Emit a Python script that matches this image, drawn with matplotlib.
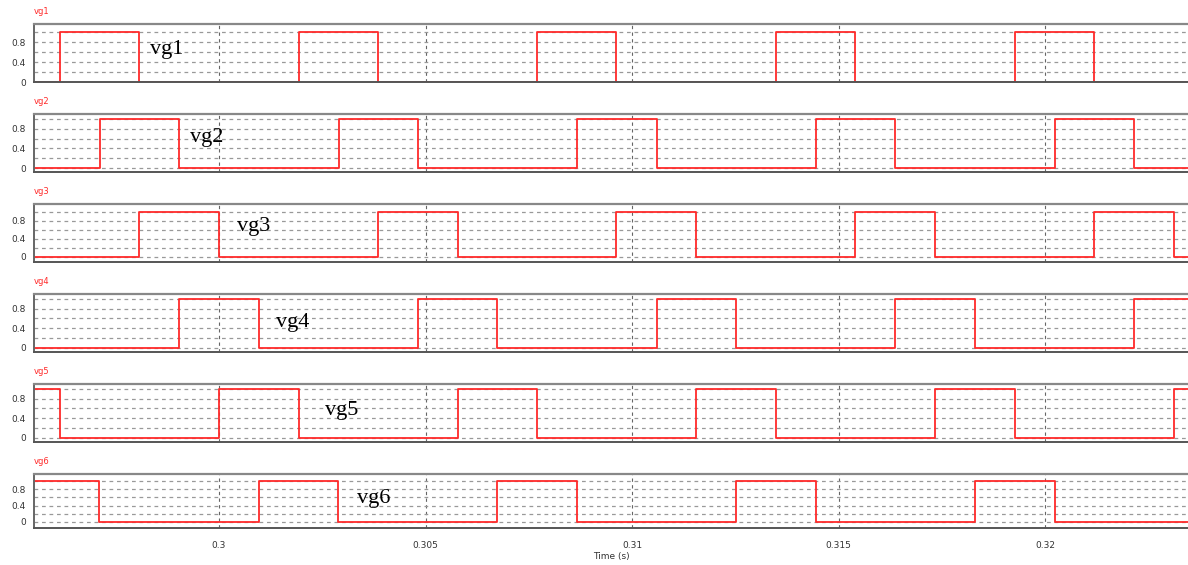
import numpy as np
import matplotlib.pyplot as plt

# gate signals: starting level and switching instants (s)
names = ['vg1', 'vg2', 'vg3', 'vg4', 'vg5', 'vg6']
start_level = [0, 0, 0, 0, 1, 1]
edges = [
    [0.29615, 0.29806, 0.30194, 0.30385, 0.30770, 0.30961, 0.31349, 0.31540, 0.31927, 0.32119],
    [0.29712, 0.29903, 0.30291, 0.30482, 0.30867, 0.31061, 0.31446, 0.31637, 0.32024, 0.32215],
    [0.29806, 0.30000, 0.30385, 0.30579, 0.30961, 0.31155, 0.31540, 0.31734, 0.32119, 0.32312],
    [0.29903, 0.30097, 0.30482, 0.30673, 0.31061, 0.31252, 0.31637, 0.31831, 0.32215],
    [0.29615, 0.30000, 0.30194, 0.30579, 0.30770, 0.31155, 0.31349, 0.31734, 0.31927, 0.32312],
    [0.29710, 0.30097, 0.30288, 0.30673, 0.30867, 0.31252, 0.31446, 0.31831, 0.32024],
]
xticks = [0.3, 0.305, 0.31, 0.315, 0.32]
xtick_labels = ['0.3', '0.305', '0.31', '0.315', '0.32']

t_min, t_max = 0.29552, 0.32346

W, H = 1188, 565
# panel boxes in pixels (top, bottom) and y limits
boxes = [(24, 82), (114, 172), (204, 262), (294, 352), (384, 442), (474, 528)]
ylims = [(0, 1.17), (-0.08, 1.1), (-0.12, 1.17), (-0.09, 1.1), (-0.09, 1.1), (-0.15, 1.17)]
label_pos = [(0.29833, 0.65), (0.29930, 0.63), (0.30044, 0.66),
             (0.30138, 0.52), (0.30257, 0.55), (0.30334, 0.58)]

fig = plt.figure(figsize=(W / 100, H / 100), dpi=100)
left = 34

for i, name in enumerate(names):
    top, bot = boxes[i]
    ax = fig.add_axes([left / W, 1 - bot / H, 1 - left / W, (bot - top) / H])

    t = [t_min] + edges[i] + [t_max]
    lv = [start_level[i]]
    for _ in edges[i]:
        lv.append(1 - lv[-1])
    lv.append(lv[-1])
    ax.plot(t, lv, drawstyle='steps-post', color='#ff2a2a', lw=1.3)

    ax.set_xlim(t_min, t_max)
    ax.set_ylim(*ylims[i])
    ax.set_yticks(np.arange(0, 1.01, 0.2))
    ax.set_yticklabels(['0', '', '0.4', '', '0.8', ''])
    ax.set_xticks(xticks)
    if i == len(names) - 1:
        ax.set_xticklabels(xtick_labels)
        ax.set_xlabel('Time (s)', fontsize=6.5, color='#333333', labelpad=2)
    else:
        ax.set_xticklabels([])
    ax.tick_params(length=0, labelsize=6.5, colors='#333333', pad=6)
    ax.tick_params(axis='x', pad=9)

    ax.grid(axis='y', ls=(0, (3, 3)), color='#999999', lw=0.9)
    ax.grid(axis='x', ls=(0, (3, 3)), color='#666666', lw=0.8)

    ax.spines['right'].set_visible(False)
    ax.spines['top'].set_color('#888888')
    ax.spines['top'].set_linewidth(1.6)
    ax.spines['bottom'].set_color('#555555')
    ax.spines['bottom'].set_linewidth(1.4)
    ax.spines['left'].set_color('#666666')
    ax.spines['left'].set_linewidth(1.4)

    ax.text(label_pos[i][0], label_pos[i][1], name, family='Liberation Serif',
            fontsize=16, va='center', ha='left', color='black')
    fig.text(left / W, 1 - (top - 13) / H, name, fontsize=6, color='#ff2a2a',
             va='center', ha='left')

fig.savefig('out.png', dpi=100)
